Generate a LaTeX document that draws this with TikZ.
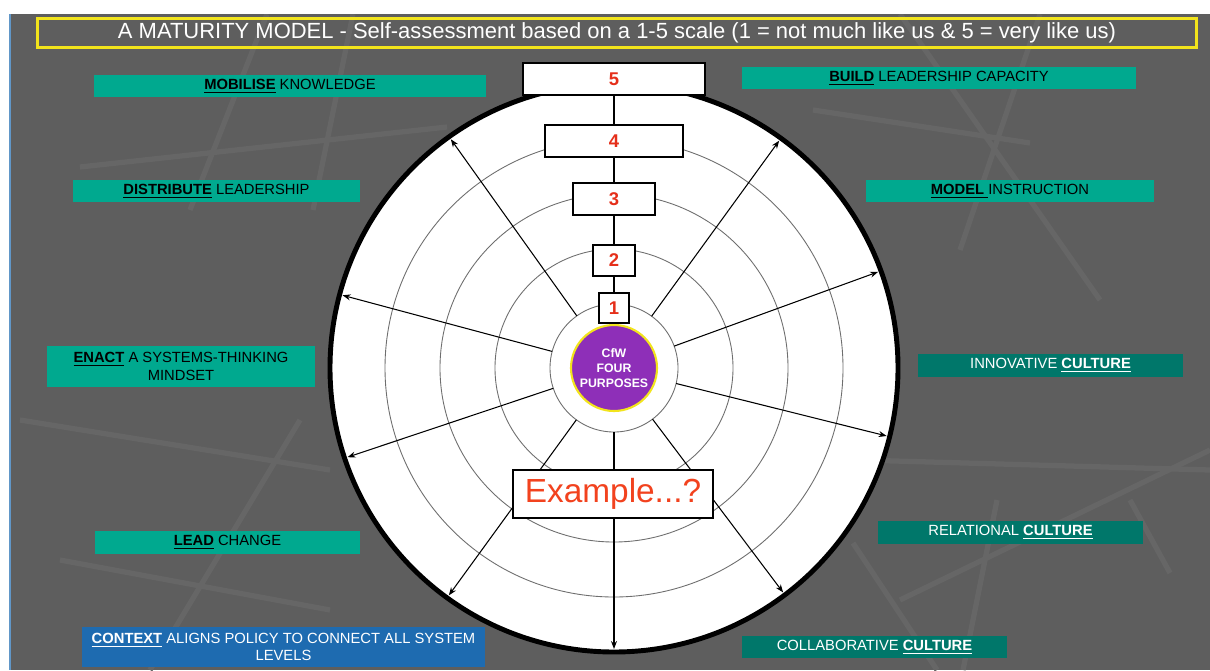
\documentclass[tikz,border=0pt]{standalone}
\usepackage{fontspec}
\setmainfont{Liberation Sans}
\usetikzlibrary{arrows.meta,calc}
\definecolor{slate}{HTML}{5E5E5E}
\definecolor{slatehi}{HTML}{666666}
\definecolor{mint}{HTML}{00A98F}
\definecolor{pine}{HTML}{00776A}
\definecolor{ocean}{HTML}{1E6BB0}
\definecolor{plum}{HTML}{8E2FB8}
\definecolor{lemon}{HTML}{F2E41C}
\definecolor{scarlet}{HTML}{E52F1A}
\definecolor{flame}{HTML}{F2421E}
\definecolor{ringgrey}{HTML}{6E6E6E}
\tikzset{
  tag/.style={fill=mint,text=black,font=\fontsize{8.4}{10}\selectfont,align=center,inner sep=0pt,
    minimum height=0.44cm,minimum width=#1},
  tag/.default=5.3cm,
  ctag/.style={tag=#1,fill=pine,text=white},
  ctag/.default=5.3cm,
  level/.style={draw=black,line width=1.1pt,fill=white,text=scarlet,font=\fontsize{10.5}{12}\selectfont\bfseries,
    inner sep=0pt,minimum height=0.64cm,minimum width=#1},
  ring/.style={draw=ringgrey,line width=0.5pt},
  spoke/.style={-{Stealth[length=1.6mm,width=1.2mm]},line width=0.6pt},
  streak/.style={slatehi,line width=3pt},
}
\newcommand{\key}[1]{\underline{\textbf{#1}}}

\begin{document}
\begin{tikzpicture}[x=0.02cm,y=0.02cm]
  \useasboundingbox (0,0) rectangle (1210,-670);
  \fill[white] (0,0) rectangle (1210,-670);
  \fill[slate] (10,-14) rectangle (1210,-670);
  \draw[ocean!70,line width=0.6pt] (10,-14) -- (10,-670);
  % backdrop
  \begin{scope}
    \clip (10,-14) rectangle (1210,-670);
    \foreach \xa/\ya/\xb/\yb in {190/-210/267/-14,313/-210/353/-14,80/-167/447/-127,813/-110/1030/-143,
      900/-14/1100/-300,1040/-14/960/-250,20/-420/330/-470,60/-560/330/-610,150/-670/300/-420,
      900/-600/1210/-450,853/-543/937/-670,997/-500/963/-670,1170/-573/1130/-500,860/-460/1210/-470}
      \draw[streak] (\xa,\ya) -- (\xb,\yb);
  \end{scope}
  \node[draw=lemon,line width=1.6pt,minimum width=23.2cm,minimum height=0.58cm,inner sep=0pt,text=white,
    font=\fontsize{12.5}{14}\selectfont] (title) at (617,-33)
    {A MATURITY MODEL - Self-assessment based on a 1-5 scale (1 = not much like us \& 5 = very like us)};

  % wheel
  \coordinate (c) at (614,-368);
  \fill[white] (c) circle (284);
  \foreach \r in {64,119,174,229} \draw[ring] (c) circle (\r);
  \foreach \a [count=\n] in {54,20,-14,-53,-90,-126,-161.5,165,125.5}{
    \coordinate (i\n) at ($(c)+(\a:64)$);
    \coordinate (o\n) at ($(c)+(\a:281)$);
    \draw[spoke] (i\n) -- (o\n);
  }
  \draw[line width=2.8pt] (c) circle (284);
  \node[circle,fill=plum,draw=lemon,line width=1.2pt,minimum size=1.72cm,inner sep=0pt,text=white,align=center,
    font=\fontsize{7}{8.6}\selectfont\bfseries] (cfw) at (c) {CfW\\FOUR\\PURPOSES};

  \node[level=0.6cm,minimum height=0.6cm] (l1) at (614,-308) {1};
  \node[level=0.84cm,minimum height=0.62cm] (l2) at (614,-260.5) {2};
  \node[level=1.64cm] (l3) at (614,-199) {3};
  \node[level=2.76cm] (l4) at (614,-141) {4};
  \node[level=3.64cm] (l5) at (614,-79) {5};
  \draw[line width=0.6pt] (l1) -- (l2); \draw[line width=0.6pt] (l2) -- (l3);
  \draw[line width=0.6pt] (l3) -- (l4); \draw[line width=0.6pt] (l4) -- (l5);

  \node[draw=black,line width=1.1pt,fill=white,text=flame,font=\fontsize{19}{22}\selectfont,inner sep=0pt,
    minimum width=4cm,minimum height=0.96cm] (ex) at (613,-494) {Example...?};

  % tags
  \node[tag=7.84cm] (mob) at (290,-86) {\key{MOBILISE} KNOWLEDGE};
  \node[tag=5.74cm] (dist) at (216.5,-191) {\key{DISTRIBUTE} LEADERSHIP};
  \node[tag=5.36cm,minimum height=0.82cm] (enact) at (181,-366.5) {\key{ENACT} A SYSTEMS-THINKING\\MINDSET};
  \node[tag=5.3cm,minimum height=0.46cm] (lead) at (227.5,-542.5) {\key{LEAD} CHANGE};
  \node[tag=8.06cm,minimum height=0.8cm,fill=ocean,text=white] (ctx) at (283.5,-647)
    {\key{CONTEXT} ALIGNS POLICY TO CONNECT ALL SYSTEM\\LEVELS};
  \node[tag=7.88cm] (build) at (939,-78) {\key{BUILD} LEADERSHIP CAPACITY};
  \node[tag=5.76cm] (model) at (1010,-191) {\key{MODEL }INSTRUCTION};
  \node[ctag,minimum height=0.46cm] (innov) at (1050.5,-365.5) {INNOVATIVE \key{CULTURE}};
  \node[ctag,minimum height=0.46cm] (rel) at (1010.5,-532.5) {RELATIONAL \key{CULTURE}};
  \node[ctag] (collab) at (874.5,-647) {COLLABORATIVE \key{CULTURE}};
\end{tikzpicture}
\end{document}
